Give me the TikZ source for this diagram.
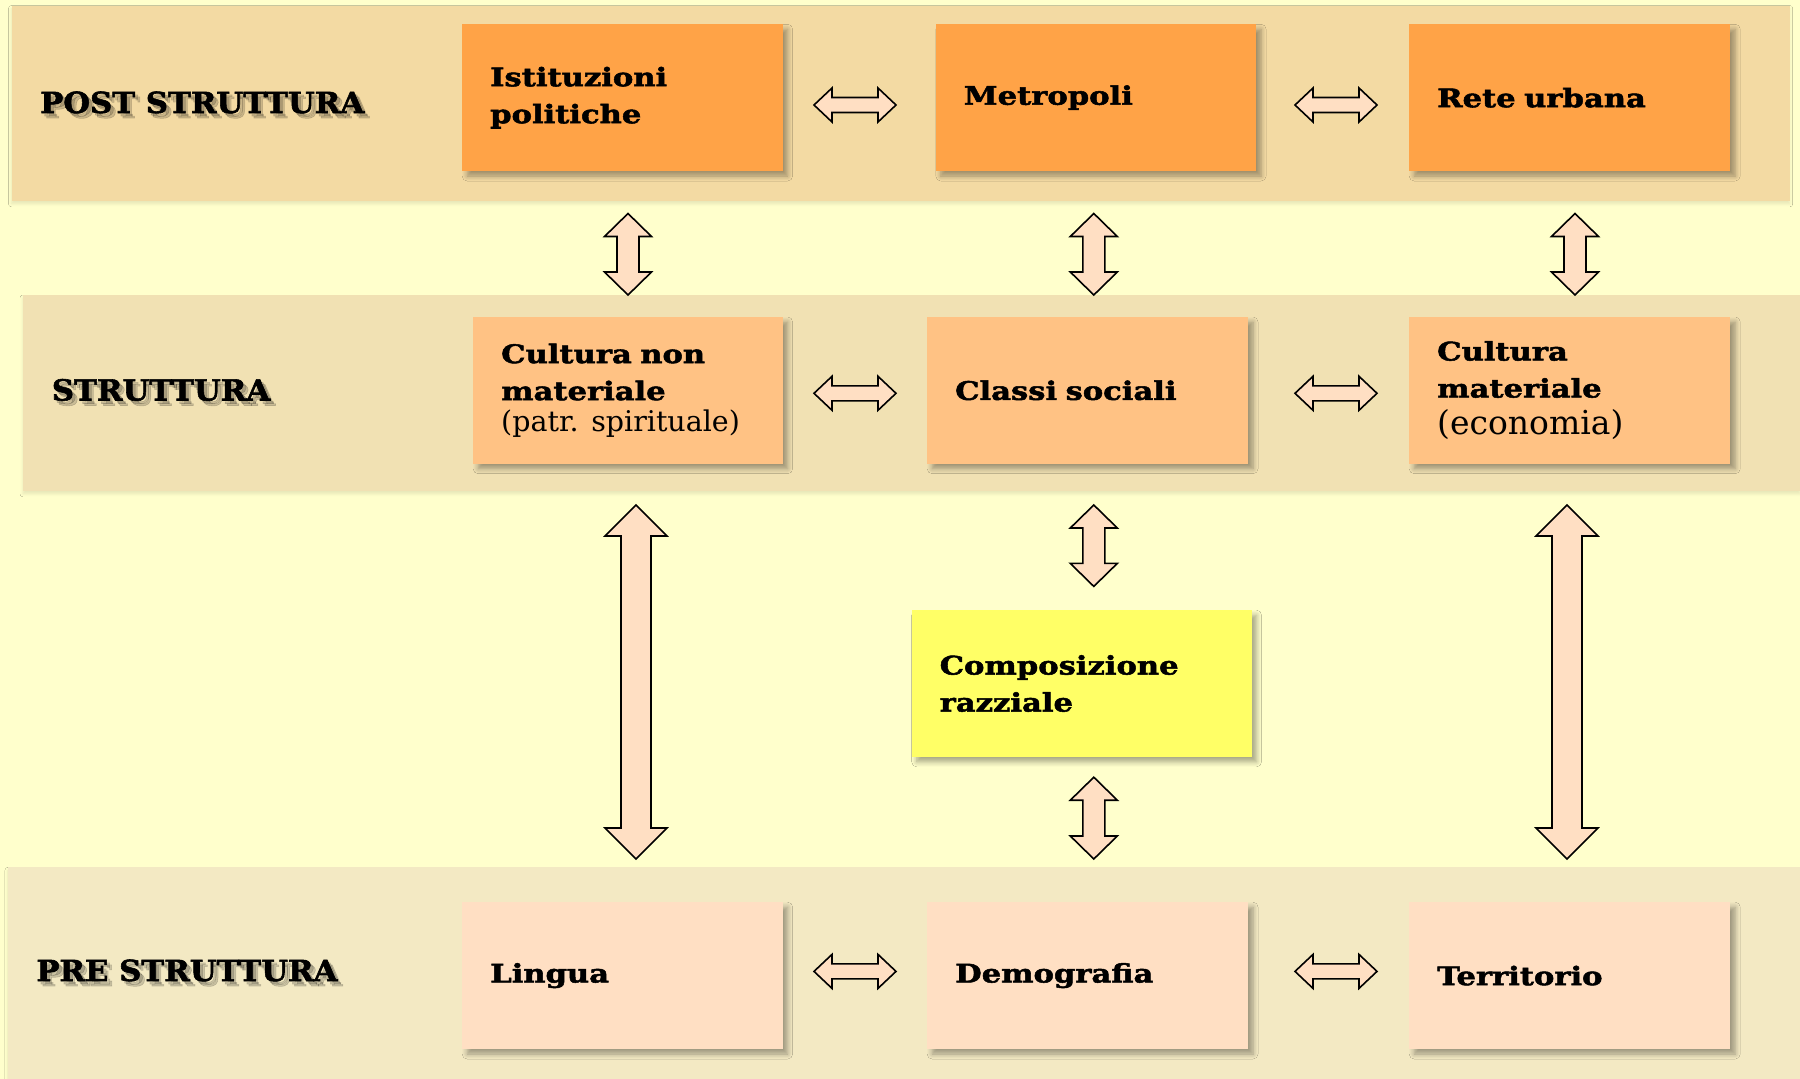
\documentclass[tikz,border=0pt]{standalone}
\usepackage{fontspec}
\usetikzlibrary{calc,shadows.blur}
\newfontfamily\boxfont{DejaVu Serif}[FakeStretch=1.2, BoldFeatures={FakeBold=2}]
\newfontfamily\regfont{DejaVu Serif}
\newfontfamily\labfont{DejaVu Serif}[FakeStretch=1.06, BoldFeatures={FakeBold=2}]
\definecolor{bgc}{HTML}{FFFFCC}
\definecolor{bandA}{HTML}{F3DAA3}
\definecolor{bandB}{HTML}{F1E1B3}
\definecolor{bandC}{HTML}{F3E9C3}
\definecolor{orangeA}{HTML}{FFA347}
\definecolor{orangeB}{HTML}{FFC284}
\definecolor{yellowA}{HTML}{FFFF66}
\definecolor{peach}{HTML}{FFDFC3}
\newcommand{\dblarr}[5]{%
  \path ($(#1)!#5!(#2)$) coordinate (hA) ($(#2)!#5!(#1)$) coordinate (hB);
  \draw[arr] (#1) -- ($(hA)!#3!90:(#2)$) -- ($(hA)!#4!90:(#2)$) -- ($(hB)!#4!-90:(#1)$) -- ($(hB)!#3!-90:(#1)$) -- (#2) -- ($(hB)!#3!90:(#1)$) -- ($(hB)!#4!90:(#1)$) -- ($(hA)!#4!-90:(#2)$) -- ($(hA)!#3!-90:(#2)$) -- cycle;}
\newcommand{\shlabel}[3]{%
  \foreach \dx/\dy in {3/3,5/5}{
    \node[lab, text=black, opacity=0.16] at ($(#1)+(\dx,\dy)$) {#3};}
  \node[lab] (#2) at (#1) {#3};}
\begin{document}
\begin{tikzpicture}[x=1pt,y=-1pt,
  band/.style={draw=none, blur shadow={shadow xshift=0pt, shadow yshift=-3pt, shadow blur radius=3pt, shadow blur steps=5, shadow opacity=10}},
  box/.style={draw=none, anchor=north west, minimum height=146.7pt, inner xsep=28pt, inner ysep=0pt, align=left,
    font=\boxfont\bfseries\fontsize{25.5}{37}\selectfont,
    blur shadow={shadow xshift=5pt, shadow yshift=-5pt, shadow blur radius=5pt, shadow blur steps=6, shadow opacity=35}},
  lab/.style={anchor=base west, inner sep=0pt, font=\labfont\bfseries\fontsize{29}{35}\selectfont},
  arr/.style={draw=black, line width=1.6pt, fill=peach, line join=miter}]
\useasboundingbox (0,0) rectangle (1800,1079);
\fill[bgc] (0,0) rectangle (1800,1079);
% bands
\fill[bandA, band] (11.5,5.5) rectangle (1789.7,200.8);
\fill[bandB, band] (23,295) rectangle (1800,490.8);
\fill[bandC, band] (8,867.3) rectangle (1800,1079);
% labels
\coordinate (lpost) at (40,113);
\coordinate (lstr) at (51.7,400.5);
\coordinate (lpre) at (36.2,981);
\shlabel{lpost}{post}{POST STRUTTURA}
\shlabel{lstr}{str}{STRUTTURA}
\shlabel{lpre}{pre}{PRE STRUTTURA}
% boxes row 1
\node[box, fill=orangeA, text width=264.4pt] (isti) at (462,24.1) {Istituzioni\\politiche};
\node[box, fill=orangeA, text width=264.3pt] (metro) at (935.6,24.1) {Metropoli};
\node[box, fill=orangeA, text width=265pt] (rete) at (1409,24.1) {Rete urbana};
% row 2
\node[box, fill=orangeB, text width=253.4pt] (cnm) at (473,316.8) {Cultura non\\materiale\\[-6pt]{\regfont\mdseries\fontsize{28.5}{30}\selectfont (patr. spirituale)}};
\node[box, fill=orangeB, text width=264.8pt] (classi) at (927,316.8) {Classi sociali};
\node[box, fill=orangeB, text width=265pt] (cm) at (1409,316.8) {Cultura\\materiale\\{\regfont\mdseries\fontsize{33}{34}\selectfont (economia)}};
% composizione
\node[box, fill=yellowA, text width=283.8pt, minimum height=146.6pt] (comp) at (911.5,610) {Composizione\\razziale};
% row 3
\node[box, fill=peach, text width=264.4pt, minimum height=146.8pt] (lingua) at (462,902) {Lingua};
\node[box, fill=peach, text width=264.8pt, minimum height=146.8pt] (demo) at (927,902) {Demografia};
\node[box, fill=peach, text width=265pt, minimum height=146.8pt] (terr) at (1409,902) {Territorio};
% arrow end points
\coordinate (h1a) at (814,105);   \coordinate (h1b) at (896,105);
\coordinate (h2a) at (1295,105);  \coordinate (h2b) at (1377,105);
\coordinate (h3a) at (814,393.3); \coordinate (h3b) at (896,393.3);
\coordinate (h4a) at (1295,393.3);\coordinate (h4b) at (1377,393.3);
\coordinate (h5a) at (814,971.4); \coordinate (h5b) at (896,971.4);
\coordinate (h6a) at (1295,971.4);\coordinate (h6b) at (1377,971.4);
\coordinate (v1a) at (628,213.5);  \coordinate (v1b) at (628,295);
\coordinate (v2a) at (1093.8,213.5); \coordinate (v2b) at (1093.8,295);
\coordinate (v3a) at (1575,213.5); \coordinate (v3b) at (1575,295);
\coordinate (v4a) at (1093.8,505); \coordinate (v4b) at (1093.8,586.4);
\coordinate (v5a) at (1093.8,777.2); \coordinate (v5b) at (1093.8,859);
\coordinate (l1a) at (636,505); \coordinate (l1b) at (636,859);
\coordinate (l2a) at (1567,505); \coordinate (l2b) at (1567,859);
% horizontal arrows
\dblarr{h1a}{h1b}{17pt}{7.5pt}{18pt}
\dblarr{h2a}{h2b}{17pt}{7.5pt}{18pt}
\dblarr{h3a}{h3b}{17pt}{7.5pt}{18pt}
\dblarr{h4a}{h4b}{17pt}{7.5pt}{18pt}
\dblarr{h5a}{h5b}{17pt}{7.5pt}{18pt}
\dblarr{h6a}{h6b}{17pt}{7.5pt}{18pt}
% vertical arrows
\dblarr{v1a}{v1b}{23.5pt}{11pt}{23pt}
\dblarr{v2a}{v2b}{23.5pt}{11pt}{23pt}
\dblarr{v3a}{v3b}{23.5pt}{11pt}{23pt}
\dblarr{v4a}{v4b}{23.5pt}{11pt}{23pt}
\dblarr{v5a}{v5b}{23.5pt}{11pt}{23pt}
% long arrows
\dblarr{l1a}{l1b}{31pt}{15pt}{31pt}
\dblarr{l2a}{l2b}{31pt}{15pt}{31pt}
\end{tikzpicture}
\end{document}
